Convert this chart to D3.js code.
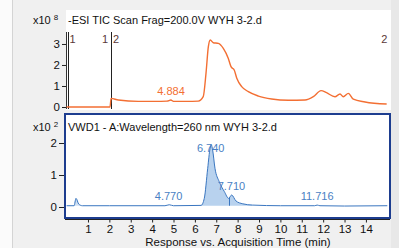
<!DOCTYPE html>
<html>
<head>
<meta charset="utf-8">
<script src="https://cdn.jsdelivr.net/npm/d3@7"></script>
<style>
body { margin: 0; background: #f0f0f0; }
svg { display: block; font-family: "Liberation Sans", Arial, sans-serif; }
.axis text { font-size: 11.5px; fill: #111; }
.axis path, .axis line { stroke: #222; }
</style>
</head>
<body>
<svg id="chart" width="399" height="248"></svg>
<script>
// TIC trace (orange), minutes / x10^8
var ticTime = [0, 2.0, 2.03, 2.08, 2.42, 3.35, 4.13, 4.7, 4.88, 5.0, 5.6, 6.16, 6.39, 6.52, 6.63, 6.72, 6.86, 7.1, 7.33, 7.56, 7.69, 7.84, 7.96, 8.19, 8.5, 8.97, 9.59, 10.37, 11.15, 11.54, 11.9, 12.16, 12.55, 12.79, 12.94, 13.18, 13.41, 13.96, 14.97];
var ticVal  = [0, 0, 0.0, 0.41, 0.33, 0.27, 0.27, 0.28, 0.33, 0.27, 0.27, 0.28, 0.49, 1.6, 2.87, 3.19, 3.06, 3.03, 2.79, 2.32, 1.92, 1.76, 1.37, 0.97, 0.73, 0.52, 0.38, 0.32, 0.33, 0.49, 0.78, 0.68, 0.49, 0.62, 0.49, 0.65, 0.37, 0.24, 0.14];

// VWD1 trace (blue), minutes / x10^2
var uvTime = [0, 0.35, 0.44, 0.57, 0.74, 2.0, 4.6, 4.8, 5.0, 6.29, 6.44, 6.6, 6.71, 6.77, 6.83, 6.94, 7.14, 7.38, 7.58, 7.72, 7.92, 8.24, 8.7, 10.0, 11.6, 11.72, 11.85, 13.0, 15.0];
var uvVal  = [0.04, 0.04, 0.27, 0.09, 0.04, 0.04, 0.04, 0.07, 0.04, 0.05, 0.27, 1.21, 1.83, 1.94, 1.78, 1.21, 0.79, 0.48, 0.27, 0.375, 0.19, 0.1, 0.06, 0.04, 0.04, 0.06, 0.04, 0.03, 0.04];

var ticPeaks = [{t: 4.884, v: 0.33, label: "4.884"}];
var uvPeaks = [
  {t: 6.740, v: 1.94, label: "6.740"},
  {t: 7.710, v: 0.375, label: "7.710"},
  {t: 4.770, v: 0.07, label: "4.770"},
  {t: 11.716, v: 0.06, label: "11.716"}
];
var xTicks = [1, 2, 3, 4, 5, 6, 7, 8, 9, 10, 11, 12, 13, 14];
var ticYTicks = [0, 1, 2, 3];
var uvYTicks = [0, 1, 2];
var segments = [0, 2.03];

var svg = d3.select("#chart");
var orange = "#f36f33";
var blue = "#3a76c0";

var x = d3.scaleLinear().domain([0, 15]).range([66.6, 387.3]);
var yTic = d3.scaleLinear().domain([0, 3.57]).range([107, 32]);
var yUv = d3.scaleLinear().domain([0, 2]).range([207, 143]);

// background pieces
svg.append("rect").attr("x", 0).attr("y", 0).attr("width", 399).attr("height", 248).attr("fill", "#f0f0f0");
svg.append("rect").attr("x", 0).attr("y", 0).attr("width", 12).attr("height", 248).attr("fill", "#fbfbfb");
svg.append("line").attr("x1", 12.5).attr("x2", 12.5).attr("y1", 0).attr("y2", 248).attr("stroke", "#d4d4d4");
svg.append("rect").attr("x", 391).attr("y", 0).attr("width", 8).attr("height", 248).attr("fill", "#e8e8e8");

// top panel
svg.append("rect").attr("x", 66).attr("y", 10).attr("width", 325).attr("height", 100).attr("fill", "#fff");
svg.append("text").attr("x", 68).attr("y", 24).attr("font-size", 11).attr("fill", "#111")
  .text("-ESI TIC Scan Frag=200.0V WYH 3-2.d");
var sup1 = svg.append("text").attr("x", 33).attr("y", 24).attr("font-size", 11).attr("fill", "#111");
sup1.append("tspan").text("x10");
sup1.append("tspan").attr("dx", 3).attr("dy", -4).attr("font-size", 8).text("8");

svg.append("g").attr("class", "axis").attr("transform", "translate(66,0)")
  .call(d3.axisLeft(yTic).tickValues(ticYTicks).tickSize(4).tickPadding(2).tickFormat(d3.format("d")))
  .call(function(g) { g.select(".domain").remove(); });
svg.append("line").attr("x1", 66.5).attr("x2", 66.5).attr("y1", 32).attr("y2", 109).attr("stroke", "#333");

// segment markers
svg.selectAll(".seg").data(segments).enter().append("line")
  .attr("class", "seg")
  .attr("x1", function(d) { return Math.round(x(d)) + 1.5; })
  .attr("x2", function(d) { return Math.round(x(d)) + 1.5; })
  .attr("y1", 32).attr("y2", 109)
  .attr("stroke", "#222").attr("stroke-width", 1);
var segLabels = [
  {t: 0, text: "1", anchor: "start", dx: 3},
  {t: 2.03, text: "1", anchor: "end", dx: -2},
  {t: 2.03, text: "2", anchor: "start", dx: 3},
  {t: 15, text: "2", anchor: "end", dx: 0}
];
svg.selectAll(".segl").data(segLabels).enter().append("text")
  .attr("x", function(d) { return x(d.t) + d.dx; })
  .attr("y", 43).attr("font-size", 11).attr("fill", "#5a3838")
  .attr("text-anchor", function(d) { return d.anchor; })
  .text(function(d) { return d.text; });

var ticLine = d3.line().x(function(d, i) { return x(ticTime[i]); }).y(function(d) { return yTic(d); }).curve(d3.curveMonotoneX);
svg.append("path").attr("d", ticLine(ticVal)).attr("fill", "none").attr("stroke", orange).attr("stroke-width", 1.4);

svg.selectAll(".ticp").data(ticPeaks).enter().append("text")
  .attr("x", function(d) { return x(d.t); })
  .attr("y", function(d) { return yTic(d.v) - 5; })
  .attr("text-anchor", "middle").attr("font-size", 11).attr("fill", orange)
  .text(function(d) { return d.label; });

// bottom panel
svg.append("rect").attr("x", 65).attr("y", 114).attr("width", 325).attr("height", 104)
  .attr("fill", "#fff").attr("stroke", "#1d3d8f").attr("stroke-width", 2);
svg.append("text").attr("x", 68).attr("y", 131).attr("font-size", 11).attr("fill", "#111")
  .text("VWD1 - A:Wavelength=260 nm WYH 3-2.d");
var sup2 = svg.append("text").attr("x", 33).attr("y", 131).attr("font-size", 11).attr("fill", "#111");
sup2.append("tspan").text("x10");
sup2.append("tspan").attr("dx", 3).attr("dy", -4).attr("font-size", 8).text("2");

svg.append("g").attr("class", "axis").attr("transform", "translate(64,0)")
  .call(d3.axisLeft(yUv).tickValues(uvYTicks).tickSize(5).tickPadding(2).tickFormat(d3.format("d")))
  .call(function(g) { g.select(".domain").remove(); });

// shaded peak areas
var pts = uvTime.map(function(t, i) { return [t, uvVal[i]]; });
var area = d3.area().x(function(d) { return x(d[0]); }).y0(yUv(0.04)).y1(function(d) { return yUv(d[1]); }).curve(d3.curveMonotoneX);
svg.append("path").attr("d", area(pts.filter(function(d) { return d[0] >= 6.29 && d[0] <= 8.7; })))
  .attr("fill", "#b8d2ee");
svg.append("path").attr("d", area(pts.filter(function(d) { return d[0] >= 0.35 && d[0] <= 0.74; })))
  .attr("fill", "#cfe0f3");
svg.append("line").attr("x1", x(7.62)).attr("x2", x(7.62)).attr("y1", yUv(0.04)).attr("y2", yUv(0.3))
  .attr("stroke", blue).attr("stroke-width", 1);

var uvLine = d3.line().x(function(d) { return x(d[0]); }).y(function(d) { return yUv(d[1]); }).curve(d3.curveMonotoneX);
svg.append("path").attr("d", uvLine(pts)).attr("fill", "none").attr("stroke", blue).attr("stroke-width", 1);

svg.selectAll(".uvp").data(uvPeaks).enter().append("text")
  .attr("x", function(d) { return x(d.t); })
  .attr("y", function(d) { return d.v > 1 ? yUv(d.v) + 7 : yUv(d.v) - 5; })
  .attr("text-anchor", "middle").attr("font-size", 11).attr("fill", "#4a7fc4")
  .text(function(d) { return d.label; });

// x axis
svg.append("g").attr("class", "axis").attr("transform", "translate(0,219.5)")
  .call(d3.axisBottom(x).tickValues(xTicks).tickSize(3).tickPadding(2).tickFormat(d3.format("d")))
  .call(function(g) { g.select(".domain").attr("d", "M65,0H390"); });

svg.append("text").attr("x", 238).attr("y", 246).attr("text-anchor", "middle")
  .attr("font-size", 11.5).attr("fill", "#111")
  .text("Response vs. Acquisition Time (min)");
</script>
</body>
</html>
